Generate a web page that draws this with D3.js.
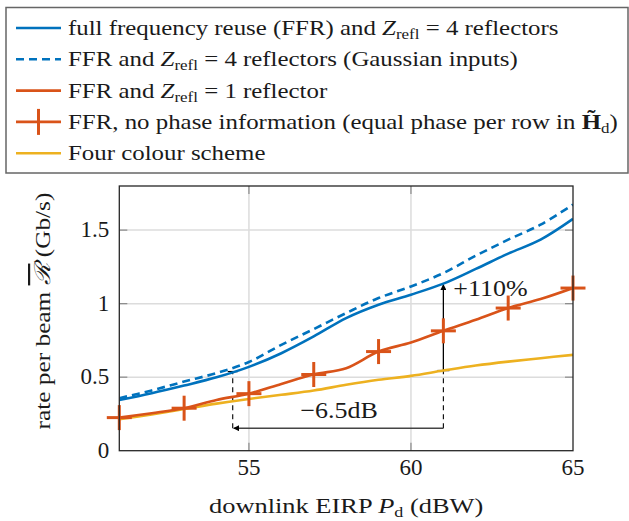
<!DOCTYPE html>
<html>
<head>
<meta charset="utf-8">
<script src="https://cdn.jsdelivr.net/npm/d3@7"></script>
<style>
  body { margin: 0; background: #fff; }
</style>
</head>
<body>
<div id="chart"></div>
<script>
// downlink EIRP (dBW)
const eirp = [51, 52, 53, 54, 55, 56, 57, 58, 59, 60, 61, 62, 63, 64, 65];
// rate per beam (Gb/s)
const ffr4 = [0.345, 0.391, 0.443, 0.499, 0.570, 0.663, 0.777, 0.902, 0.993, 1.061, 1.136, 1.236, 1.340, 1.435, 1.576];
const ffr4Gauss = [0.357, 0.410, 0.470, 0.528, 0.603, 0.720, 0.827, 0.936, 1.038, 1.117, 1.208, 1.326, 1.435, 1.537, 1.674];
const ffr1 = [0.225, 0.255, 0.289, 0.345, 0.388, 0.454, 0.518, 0.561, 0.674, 0.736, 0.815, 0.890, 0.970, 1.031, 1.106];
const fourColour = [0.214, 0.247, 0.283, 0.320, 0.352, 0.380, 0.409, 0.448, 0.482, 0.509, 0.545, 0.579, 0.606, 0.629, 0.652];
// no phase information (markers every 2 dB)
const noPhaseX = [51, 53, 55, 57, 59, 61, 63, 65];
const noPhase = [0.225, 0.289, 0.388, 0.518, 0.674, 0.815, 0.970, 1.106];

const xTicks = [55, 60, 65];
const yTicks = [0, 0.5, 1, 1.5];

// annotations: +110% at 61 dBW, -6.5dB from 61 to 54.5 dBW
const gainX = 61;
const gainFrom = 0.545, gainTo = 1.136;
const shiftFrom = 61, shiftTo = 54.5;
const shiftLevel = 0.153, shiftTop = 0.538;

const blue = "#0072BD", orange = "#D95319", yellow = "#EDB120";
const FONT = "'Liberation Serif'";
const stretchK = 1.13;

const W = 629, H = 521;
const margin = { top: 186, right: 56, bottom: 70.3, left: 119.3 };
const width = W - margin.left - margin.right;
const height = H - margin.top - margin.bottom;

const svg = d3.select("#chart").append("svg")
  .attr("width", W).attr("height", H);

// widen the Times-like glyphs towards the Computer Modern look
function stretch(t, k) {
  const n = t.node();
  n.setAttribute("textLength", n.getComputedTextLength() * (k || stretchK));
  n.setAttribute("lengthAdjust", "spacingAndGlyphs");
}
function label(parent, size) {
  return parent.append("text").style("font-family", FONT)
    .attr("font-size", size).attr("fill", "#1a1a1a");
}

svg.append("defs").append("clipPath").attr("id", "clip")
  .append("rect").attr("width", width).attr("height", height);

const arrow = svg.select("defs").append("marker")
  .attr("id", "head").attr("viewBox", "0 0 10 10")
  .attr("refX", 9).attr("refY", 5)
  .attr("markerWidth", 6).attr("markerHeight", 6)
  .attr("markerUnits", "userSpaceOnUse")
  .attr("orient", "auto");
arrow.append("path").attr("d", "M0,0 L10,5 L0,10 Z").attr("fill", "#000");

const g = svg.append("g")
  .attr("transform", "translate(" + margin.left + "," + margin.top + ")");

const x = d3.scaleLinear().domain([51, 65]).range([0, width]);
const y = d3.scaleLinear().domain([0, 1.8]).range([height, 0]);

// grid
g.append("g").selectAll("line").data(yTicks.filter(d => d > 0)).join("line")
  .attr("x1", 0).attr("x2", width)
  .attr("y1", d => y(d)).attr("y2", d => y(d))
  .attr("stroke", "#dcdcdc").attr("stroke-width", 1.5);
g.append("g").selectAll("line").data(xTicks.filter(d => d < 65)).join("line")
  .attr("x1", d => x(d)).attr("x2", d => x(d))
  .attr("y1", 0).attr("y2", height)
  .attr("stroke", "#dcdcdc").attr("stroke-width", 1.5);

// inner tick marks
const tickG = g.append("g").attr("stroke", "#8a8a8a").attr("stroke-width", 1.2);
yTicks.filter(d => d > 0).forEach(d => {
  tickG.append("line").attr("x1", 0).attr("x2", 8).attr("y1", y(d)).attr("y2", y(d));
  tickG.append("line").attr("x1", width - 8).attr("x2", width).attr("y1", y(d)).attr("y2", y(d));
});
xTicks.filter(d => d < 65).forEach(d => {
  tickG.append("line").attr("x1", x(d)).attr("x2", x(d)).attr("y1", height).attr("y2", height - 8);
  tickG.append("line").attr("x1", x(d)).attr("x2", x(d)).attr("y1", 0).attr("y2", 8);
});

// annotations
const ann = g.append("g");
ann.append("line")
  .attr("x1", x(gainX)).attr("x2", x(gainX))
  .attr("y1", y(gainFrom)).attr("y2", y(gainTo) + 1)
  .attr("stroke", "#000").attr("stroke-width", 1.3)
  .attr("marker-end", "url(#head)");
ann.append("line")
  .attr("x1", x(gainX) - 6).attr("x2", x(gainX) + 6)
  .attr("y1", y(gainFrom)).attr("y2", y(gainFrom))
  .attr("stroke", "#000").attr("stroke-width", 1.3);
ann.append("line")
  .attr("x1", x(shiftFrom)).attr("x2", x(shiftFrom))
  .attr("y1", y(shiftLevel)).attr("y2", y(gainFrom))
  .attr("stroke", "#000").attr("stroke-width", 1.1).attr("stroke-dasharray", "5,4");
ann.append("line")
  .attr("x1", x(shiftTo)).attr("x2", x(shiftTo))
  .attr("y1", y(shiftLevel)).attr("y2", y(shiftTop))
  .attr("stroke", "#000").attr("stroke-width", 1.1).attr("stroke-dasharray", "5,4");
ann.append("line")
  .attr("x1", x(shiftTo) - 5).attr("x2", x(shiftTo) + 5)
  .attr("y1", y(shiftTop)).attr("y2", y(shiftTop))
  .attr("stroke", "#000").attr("stroke-width", 1.3);
ann.append("line")
  .attr("x1", x(shiftFrom)).attr("x2", x(shiftTo) + 1)
  .attr("y1", y(shiftLevel)).attr("y2", y(shiftLevel))
  .attr("stroke", "#444").attr("stroke-width", 1.4)
  .attr("marker-end", "url(#head)");
stretch(label(ann, 23)
  .attr("x", x((shiftFrom + shiftTo) / 2) + 1).attr("y", y(shiftLevel) - 10)
  .attr("text-anchor", "middle").text("\u22126.5dB"));
stretch(label(ann, 23)
  .attr("x", x(gainX) + 10).attr("y", y(gainTo) + 12)
  .text("+110%"));

// lines
const line = d3.line()
  .x(d => x(d[0])).y(d => y(d[1]))
  .curve(d3.curveCatmullRom.alpha(0.5));
const plot = g.append("g").attr("clip-path", "url(#clip)");
const series = [
  { vals: fourColour, color: yellow, dash: null },
  { vals: ffr4, color: blue, dash: null },
  { vals: ffr4Gauss, color: blue, dash: "8,5" },
  { vals: ffr1, color: orange, dash: null }
];
series.forEach(s => {
  plot.append("path")
    .datum(eirp.map((e, i) => [e, s.vals[i]]))
    .attr("fill", "none")
    .attr("stroke", s.color).attr("stroke-width", 2.6)
    .attr("stroke-dasharray", s.dash)
    .attr("d", line);
});

// markers
const cross = 12.5;
const mk = g.append("g").attr("stroke", orange).attr("stroke-width", 3);
noPhaseX.forEach((e, i) => {
  mk.append("line").attr("x1", x(e) - cross).attr("x2", x(e) + cross)
    .attr("y1", y(noPhase[i])).attr("y2", y(noPhase[i]));
  mk.append("line").attr("x1", x(e)).attr("x2", x(e))
    .attr("y1", y(noPhase[i]) - cross).attr("y2", y(noPhase[i]) + cross);
});

// frame
g.append("rect").attr("width", width).attr("height", height)
  .attr("fill", "none").attr("stroke", "#262626").attr("stroke-width", 1.3);

// tick labels
xTicks.forEach(d => {
  label(g, 23).attr("x", x(d)).attr("y", height + 24)
    .attr("text-anchor", "middle").text(d);
});
yTicks.forEach(d => {
  label(g, 23).attr("x", -10).attr("y", y(d) + 7)
    .attr("text-anchor", "end").text(d3.format("~g")(d));
});

// axis titles
const xt = label(svg, 22)
  .attr("x", margin.left + width / 2).attr("y", 513)
  .attr("text-anchor", "middle");
xt.append("tspan").text("downlink EIRP ");
xt.append("tspan").attr("font-style", "italic").text("P");
xt.append("tspan").attr("font-size", 15).attr("dy", 4).text("d");
xt.append("tspan").attr("dy", -4).text(" (dBW)");
stretch(xt, 1.2);

const yt = label(svg, 22)
  .attr("transform", "translate(50,311) rotate(-90)")
  .attr("text-anchor", "middle");
yt.append("tspan").text("rate per beam ");
yt.append("tspan").attr("font-style", "italic").style("text-decoration", "overline").text("\u211B");
yt.append("tspan").text(" (Gb/s)");
stretch(yt, 1.15);

// legend
const legendItems = [
  { color: blue, dash: null, cross: false,
    parts: [["full frequency reuse (FFR) and "], ["Z", "it"], ["refl", "sub"], [" = 4 reflectors"]] },
  { color: blue, dash: "8,5", cross: false,
    parts: [["FFR and "], ["Z", "it"], ["refl", "sub"], [" = 4 reflectors (Gaussian inputs)"]] },
  { color: orange, dash: null, cross: false,
    parts: [["FFR and "], ["Z", "it"], ["refl", "sub"], [" = 1 reflector"]] },
  { color: orange, dash: null, cross: true,
    parts: [["FFR, no phase information (equal phase per row in "], ["H\u0303", "bold"], ["d", "sub"], [")"]] },
  { color: yellow, dash: null, cross: false,
    parts: [["Four colour scheme"]] }
];

svg.append("rect").attr("x", 6).attr("y", 7.5).attr("width", 622).attr("height", 165.5)
  .attr("fill", "#fff").attr("stroke", "#666").attr("stroke-width", 1.5);

legendItems.forEach((it, i) => {
  const ly = 28 + i * 31.3;
  svg.append("line").attr("x1", 16).attr("x2", 61).attr("y1", ly).attr("y2", ly)
    .attr("stroke", it.color).attr("stroke-width", 2.6)
    .attr("stroke-dasharray", it.dash);
  if (it.cross) {
    svg.append("line").attr("x1", 38.5).attr("x2", 38.5).attr("y1", ly - 13).attr("y2", ly + 13)
      .attr("stroke", it.color).attr("stroke-width", 3);
  }
  const t = label(svg, 22).attr("x", 68).attr("y", ly + 7);
  let shifted = false;
  it.parts.forEach(p => {
    const s = t.append("tspan").text(p[0]);
    if (p[1] === "it") s.attr("font-style", "italic");
    if (p[1] === "bold") s.attr("font-weight", "bold");
    if (p[1] === "sub") { s.attr("font-size", 15).attr("dy", 4); shifted = true; }
    else if (shifted) { s.attr("dy", -4); shifted = false; }
  });
  stretch(t);
});
</script>
</body>
</html>
